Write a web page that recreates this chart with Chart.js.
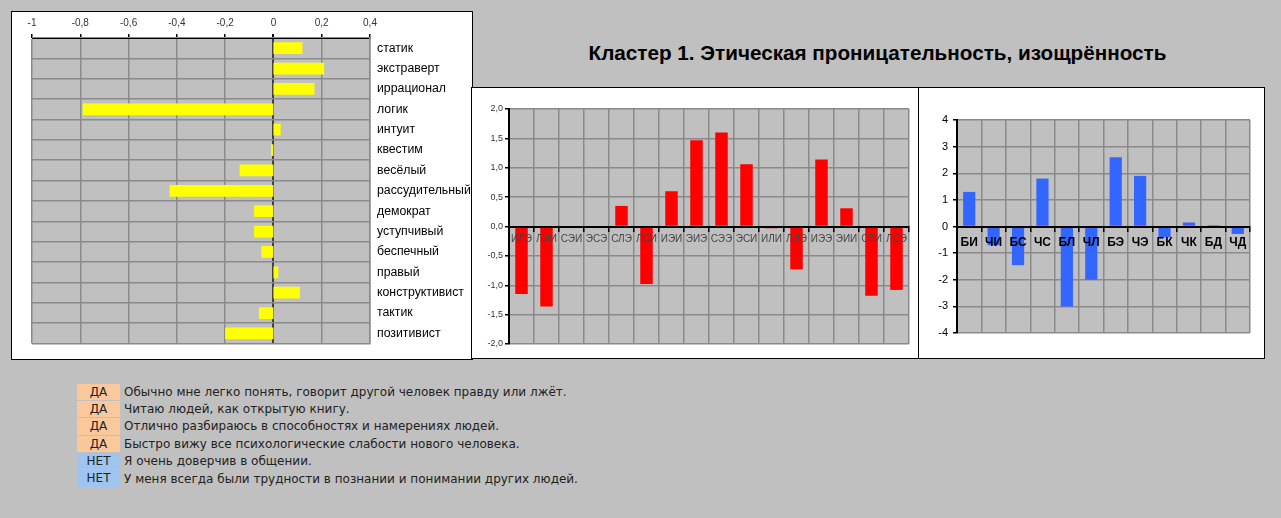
<!DOCTYPE html>
<html><head><meta charset="utf-8">
<script src="https://cdn.jsdelivr.net/npm/chart.js@4.4.0/dist/chart.umd.min.js"></script>
<style>
html,body{margin:0;padding:0;background:#c0c0c0;width:1281px;height:518px;overflow:hidden;font-family:"Liberation Sans",Arial,sans-serif;}
.box{position:absolute;background:#fff;border:1px solid #000;box-sizing:border-box;}
canvas{position:absolute;}
#title{position:absolute;left:472px;width:811px;top:41px;text-align:center;font:bold 20.7px "Liberation Sans",Arial,sans-serif;color:#000;}
#qa{position:absolute;left:77px;top:383px;}
.row{height:17.4px;display:flex;align-items:center;font:12px "DejaVu Sans",sans-serif;color:#222;white-space:nowrap;}
.ans{width:43px;height:16.4px;margin-right:4px;text-align:center;line-height:16.4px;}
.da{background:#f9c89b;}
.net{background:#9ec4f0;}
</style></head>
<body>
<div class="box" style="left:11px;top:11px;width:462px;height:349px;"></div>
<div class="box" style="left:471px;top:87px;width:448px;height:272px;"></div>
<div class="box" style="left:918px;top:87px;width:347px;height:272px;"></div>
<div id="title">Кластер 1. Этическая проницательность, изощрённость</div>
<canvas id="c1" style="left:12px;top:12px;width:460px;height:346px;"></canvas>
<canvas id="c2" style="left:472px;top:88px;width:446px;height:270px;"></canvas>
<canvas id="c3" style="left:919px;top:88px;width:345px;height:270px;"></canvas>
<div id="qa"></div>
<script>
const traitCategories = ['статик','экстраверт','иррационал','логик','интуит','квестим','весёлый','рассудительный','демократ','уступчивый','беспечный','правый','конструктивист','тактик','позитивист'];
const traitValues = [0.12,0.21,0.17,-0.79,0.03,-0.01,-0.14,-0.43,-0.08,-0.08,-0.05,0.02,0.11,-0.06,-0.20];
const typeCategories = ['ИЛЭ','ЛИИ','СЭИ','ЭСЭ','СЛЭ','ЛСИ','ИЭИ','ЭИЭ','СЭЭ','ЭСИ','ИЛИ','ЛИЭ','ИЭЭ','ЭИИ','СЛИ','ЛСЭ'];
const typeValues = [-1.15,-1.36,0,0,0.35,-0.98,0.60,1.47,1.60,1.06,-0.03,-0.73,1.14,0.31,-1.18,-1.08];
const aspectCategories = ['БИ','ЧИ','БС','ЧС','БЛ','ЧЛ','БЭ','ЧЭ','БК','ЧК','БД','ЧД'];
const aspectValues = [1.3,-0.7,-1.45,1.8,-3.0,-2.0,2.6,1.9,-0.4,0.15,0.05,-0.28];
const answers = ['ДА','ДА','ДА','ДА','НЕТ','НЕТ'];
const statements = [
 'Обычно мне легко понять, говорит другой человек правду или лжёт.',
 'Читаю людей, как открытую книгу.',
 'Отлично разбираюсь в способностях и намерениях людей.',
 'Быстро вижу все психологические слабости нового человека.',
 'Я очень доверчив в общении.',
 'У меня всегда были трудности в познании и понимании других людей.'
];

const qa = document.getElementById('qa');
answers.forEach((a,i)=>{
  const r=document.createElement('div');r.className='row';
  const s=document.createElement('div');s.className='ans '+(a==='ДА'?'da':'net');s.textContent=a;
  const t=document.createElement('div');t.textContent=statements[i];
  r.appendChild(s);r.appendChild(t);qa.appendChild(r);
});

const plotBg = {id:'plotBg',beforeDraw(chart){const a=chart.chartArea,c=chart.ctx;c.save();c.fillStyle='#c0c0c0';c.fillRect(a.left,a.top,a.right-a.left,a.bottom-a.top);c.restore();}};
const FONT = '"Liberation Sans", Arial, sans-serif';
const GRID = '#8a8a8a';
const GW = 1.5;
const common = {responsive:false,animation:false,plugins:{legend:{display:false},tooltip:{enabled:false}}};
function fix(cv){const w=parseInt(cv.style.width),h=parseInt(cv.style.height);cv.width=w;cv.height=h;}
['c1','c2','c3'].forEach(id=>fix(document.getElementById(id)));

const fmt1 = v => { const r=Math.round(v*10)/10; return r===0?'0':String(r).replace('.',','); };

new Chart(document.getElementById('c1'),{
  type:'bar',
  data:{labels:traitCategories,datasets:[{data:traitValues,backgroundColor:'#ffff00',barPercentage:0.58,categoryPercentage:1}]},
  options:Object.assign({},common,{
    indexAxis:'y',
    layout:{padding:{left:20,bottom:11,top:0,right:0}},
    scales:{
      x:{position:'top',min:-1,max:0.4,
        ticks:{stepSize:0.2,callback:fmt1,font:{size:10,family:FONT},color:'#333',padding:5,maxRotation:0},
        grid:{color:c=>c.tick&&Math.abs(c.tick.value)<1e-9?'#404040':GRID,lineWidth:c=>c.tick&&Math.abs(c.tick.value)<1e-9?2:GW,tickLength:4,tickColor:'#000'},
        border:{display:true,color:'#000',width:1},
        afterFit:s=>{s.height=26;}},
      y:{position:'right',
        ticks:{font:{size:12.3,family:FONT},color:'#000',padding:7,autoSkip:false},
        grid:{color:GRID,lineWidth:GW,drawTicks:false},
        border:{display:true,color:GRID,width:GW},
        afterFit:s=>{s.width=102;}}
    }
  }),
  plugins:[plotBg]
});

new Chart(document.getElementById('c2'),{
  type:'bar',
  data:{labels:typeCategories,datasets:[{data:typeValues,backgroundColor:'#ff0000',barPercentage:0.5,categoryPercentage:1}]},
  options:Object.assign({},common,{
    layout:{padding:{left:0,right:9,top:21,bottom:14}},
    scales:{
      x:{position:{y:0},
        ticks:{z:1,font:{size:10,family:FONT},color:'#444',padding:3,autoSkip:false,maxRotation:0},
        grid:{color:GRID,lineWidth:GW,tickLength:4,tickColor:'#000'},
        border:{z:1,display:true,color:'#000',width:2},
        afterFit:s=>{s.height=0;}},
      y:{min:-2,max:2,
        ticks:{stepSize:0.5,callback:v=>v.toFixed(1).replace('.',','),font:{size:9,family:FONT},color:'#333',padding:2},
        grid:{color:GRID,lineWidth:GW,tickLength:4,tickColor:'#000'},
        border:{display:true,color:'#000',width:2},
        afterFit:s=>{s.width=37;}}
    }
  }),
  plugins:[plotBg]
});

new Chart(document.getElementById('c3'),{
  type:'bar',
  data:{labels:aspectCategories,datasets:[{data:aspectValues,backgroundColor:'#3366ff',barPercentage:0.5,categoryPercentage:1}]},
  options:Object.assign({},common,{
    layout:{padding:{left:0,right:14,top:32,bottom:25}},
    scales:{
      x:{position:{y:0},
        ticks:{z:1,font:{size:12,weight:'bold',family:FONT},color:'#000',padding:5,autoSkip:false,maxRotation:0},
        grid:{color:GRID,lineWidth:GW,tickLength:4,tickColor:'#000'},
        border:{z:1,display:true,color:'#000',width:2},
        afterFit:s=>{s.height=0;}},
      y:{min:-4,max:4,
        ticks:{stepSize:1,font:{size:11,family:FONT},color:'#000',padding:5},
        grid:{color:GRID,lineWidth:GW,tickLength:4,tickColor:'#000'},
        border:{display:true,color:'#000',width:2},
        afterFit:s=>{s.width=38;}}
    }
  }),
  plugins:[plotBg]
});
</script>
</body></html>
